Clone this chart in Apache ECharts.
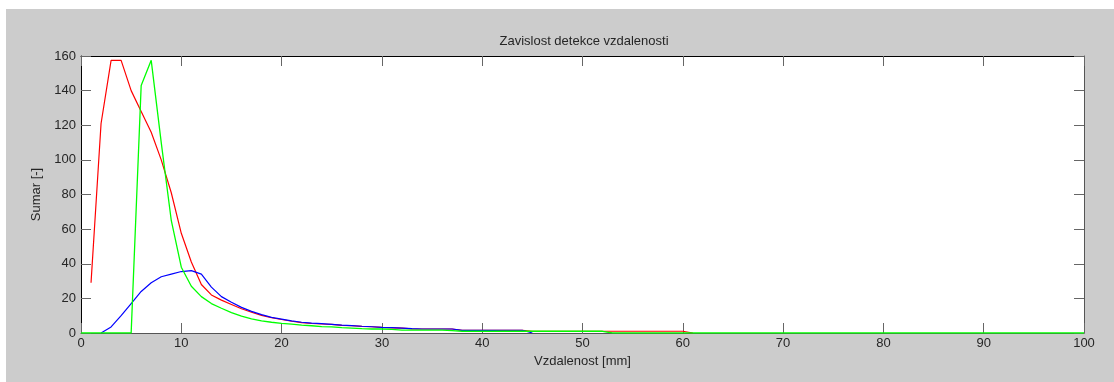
<!DOCTYPE html>
<html>
<head>
<meta charset="utf-8">
<script src="https://cdn.jsdelivr.net/npm/echarts@6/dist/echarts.min.js"></script>
<style>
  html, body { margin: 0; padding: 0; background: #ffffff; }
  #wrap { position: absolute; left: 0; top: 0; width: 1114px; height: 382px; background: #ffffff; }
  #chart { position: absolute; left: 6px; top: 9px; width: 1108px; height: 373px; background: #cccccc; }
</style>
</head>
<body>
<div id="wrap"><div id="chart"></div></div>
<script>
// ---- data ----
const titleText = 'Zavislost detekce vzdalenosti';
const xLabel = 'Vzdalenost [mm]';
const yLabel = 'Sumar [-]';
const xTicks = [0, 10, 20, 30, 40, 50, 60, 70, 80, 90, 100];
const yTicks = [0, 20, 40, 60, 80, 100, 120, 140, 160];

// red series: value at distance = index (mm)
const redValues = [null, 29, 121, 157.5, 157.5, 140, 128, 116, 100, 81,
  57.6, 41, 28, 22, 19, 16.5, 14, 12, 10.2, 8.8,
  7.8, 6.8, 6, 5.5, 5.2, 5, 4.4, 4.2, 3.8, 3.6,
  3.2, 3, 2.8, 2.4, 2.3, 2.3, 2.3, 2.3, 1.5, 1.5,
  1.5, 1.5, 1.5, 1.5, 1.5, 1, 1, 1, 1, 1,
  1, 1, 1, 1, 1, 1, 1, 1, 1, 1,
  1, 0];

// blue series
const blueValues = [null, null, 0, 3.5, 10, 17, 24, 29, 32.5, 34,
  35.5, 36, 34, 26.5, 21, 17.8, 14.8, 12.5, 10.6, 9,
  8, 7, 6.2, 5.7, 5.4, 5, 4.6, 4.3, 3.9, 3.6,
  3.3, 3.1, 2.8, 2.5, 2.3, 2.3, 2.3, 2.3, 1.5, 1.5,
  1.5, 1.5, 1.6, 1.6, 1.6, 0];

// green series
const greenValues = [0, 0, 0, 0, 0, 0, 143, 157.5, 110, 65,
  38, 27, 21, 17, 14.3, 11.8, 9.8, 8.2, 7, 6.2,
  5.6, 5.1, 4.6, 4.2, 3.7, 3.5, 3.1, 2.8, 2.5, 2.3,
  2.3, 2.1, 1.7, 1.7, 1.7, 1.7, 1.7, 1.4, 1, 1,
  1, 1, 1, 1, 1, 1, 1, 1, 1, 1,
  1, 1, 1, 0, 0, 0, 0, 0, 0, 0,
  0, 0, 0, 0, 0, 0, 0, 0, 0, 0,
  0, 0, 0, 0, 0, 0, 0, 0, 0, 0,
  0, 0, 0, 0, 0, 0, 0, 0, 0, 0,
  0, 0, 0, 0, 0, 0, 0, 0, 0, 0,
  0];

function toPairs(vals) {
  const out = [];
  vals.forEach((v, i) => { if (v !== null) out.push([i, v]); });
  return out;
}

const FONT = 'Liberation Sans';
const TXT = '#262626';
const chart = echarts.init(document.getElementById('chart'), null, { renderer: 'canvas' });

const commonX = { type: 'value', min: xTicks[0], max: xTicks[xTicks.length - 1], interval: 10, splitLine: { show: false } };
const commonY = { type: 'value', min: yTicks[0], max: yTicks[yTicks.length - 1], interval: 20, splitLine: { show: false } };

chart.setOption({
  backgroundColor: '#cccccc',
  animation: false,
  title: {
    text: titleText, left: 573, top: 21, textAlign: 'center',
    textStyle: { fontFamily: FONT, fontSize: 13, fontWeight: 'normal', color: TXT }
  },
  grid: {
    left: 75, top: 47, width: 1003, height: 277,
    show: true, backgroundColor: '#ffffff', borderWidth: 0
  },
  xAxis: [
    Object.assign({}, commonX, {
      position: 'bottom',
      name: xLabel, nameLocation: 'middle', nameGap: 14,
      nameTextStyle: { fontFamily: FONT, fontSize: 13, color: TXT },
      axisLine: { show: true, onZero: false, lineStyle: { color: '#555555', width: 1 } },
      axisTick: { show: true, inside: true, length: 10, lineStyle: { color: '#666666' } },
      axisLabel: { fontFamily: FONT, fontSize: 13, color: TXT, margin: 4 }
    }),
    Object.assign({}, commonX, {
      position: 'top',
      axisLine: { show: true, onZero: false, lineStyle: { color: '#000000', width: 1 } },
      axisTick: { show: true, inside: true, length: 10, lineStyle: { color: '#666666' } },
      axisLabel: { show: false }
    })
  ],
  yAxis: [
    Object.assign({}, commonY, {
      position: 'left',
      name: yLabel, nameLocation: 'middle', nameGap: 33, nameRotate: 90,
      nameTextStyle: { fontFamily: FONT, fontSize: 13, color: TXT },
      axisLine: { show: true, onZero: false, lineStyle: { color: '#000000', width: 1 } },
      axisTick: { show: true, inside: true, length: 10, lineStyle: { color: '#666666' } },
      axisLabel: { fontFamily: FONT, fontSize: 13, color: TXT, margin: 5 }
    }),
    Object.assign({}, commonY, {
      position: 'right',
      axisLine: { show: true, onZero: false, lineStyle: { color: '#555555', width: 1 } },
      axisTick: { show: true, inside: true, length: 10, lineStyle: { color: '#666666' } },
      axisLabel: { show: false }
    })
  ],
  series: [
    { name: 'red', type: 'line', data: toPairs(redValues), showSymbol: false, symbol: 'none',
      lineStyle: { color: '#ff0000', width: 1.2 }, itemStyle: { color: '#ff0000' }, z: 3 },
    { name: 'blue', type: 'line', data: toPairs(blueValues), showSymbol: false, symbol: 'none',
      lineStyle: { color: '#0000ff', width: 1.2 }, itemStyle: { color: '#0000ff' }, z: 4 },
    { name: 'green', type: 'line', data: toPairs(greenValues), showSymbol: false, symbol: 'none',
      lineStyle: { color: '#00ff00', width: 1.3 }, itemStyle: { color: '#00ff00' }, z: 5 }
  ]
});
</script>
</body>
</html>
